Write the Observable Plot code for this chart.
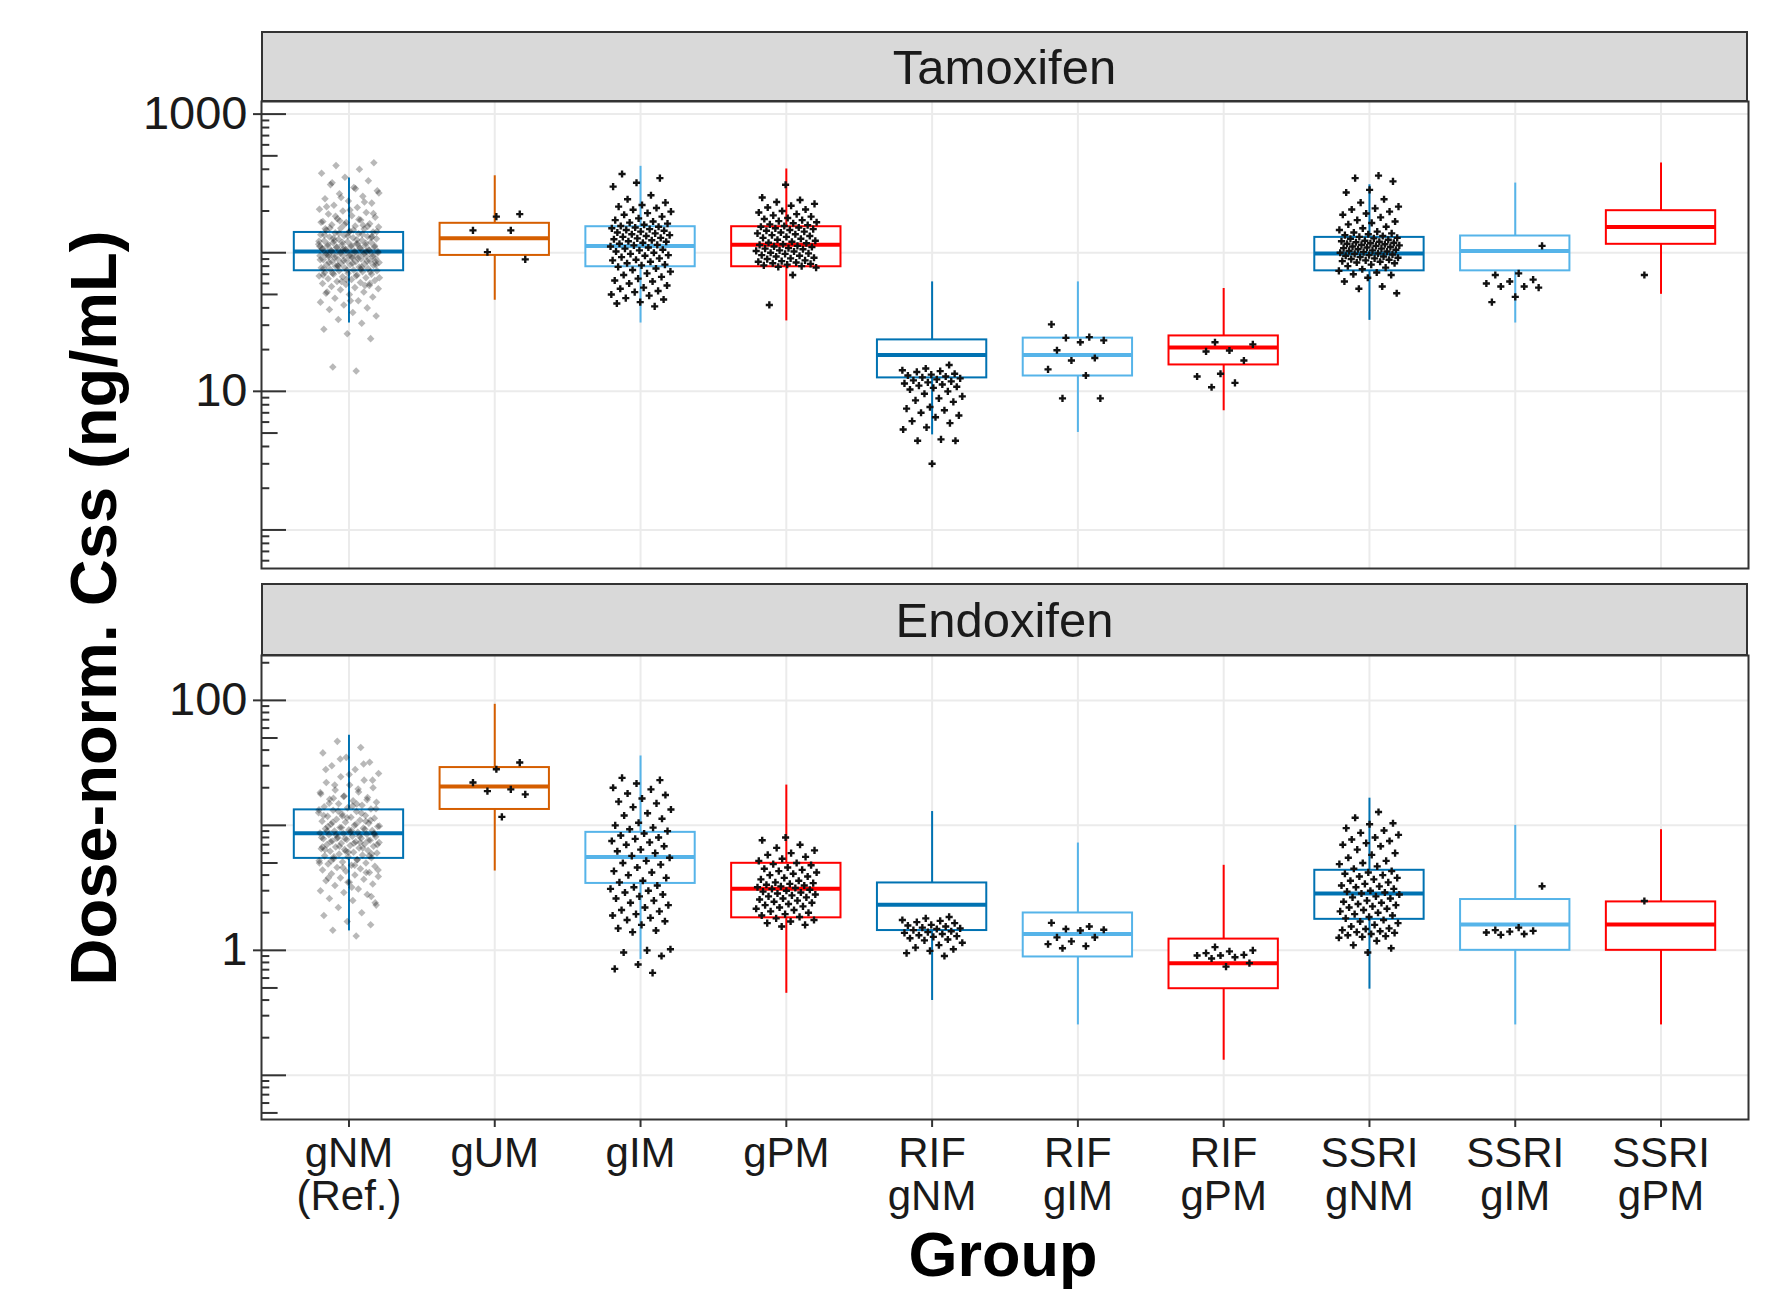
<!DOCTYPE html>
<html><head><meta charset="utf-8">
<script src="https://cdn.jsdelivr.net/npm/d3@7"></script>
<script src="https://cdn.jsdelivr.net/npm/@observablehq/plot@0.6"></script>
<style>
body{margin:0;background:#fff;font-family:"Liberation Sans",Arial,sans-serif;}
#fig{position:relative;width:1766px;height:1289px;overflow:hidden;background:#fff;}
.strip{position:absolute;left:261px;width:1487px;background:#d9d9d9;border:2px solid #333;box-sizing:border-box;display:flex;align-items:center;justify-content:center;font-size:49px;color:#1a1a1a;}
.plot{position:absolute;left:0;}
.title{position:absolute;font-weight:bold;font-size:65px;color:#000;white-space:nowrap;line-height:1;}
</style></head><body><div id="fig"></div>
<script>
// ---------- categories / labels ----------
const categories = ["gNM (Ref.)","gUM","gIM","gPM","RIF gNM","RIF gIM","RIF gPM","SSRI gNM","SSRI gIM","SSRI gPM"];
const labelLine1 = ["gNM","gUM","gIM","gPM","RIF","RIF","RIF","SSRI","SSRI","SSRI"];
const labelLine2 = ["(Ref.)","","","","gNM","gIM","gPM","gNM","gIM","gPM"];
const groupColors = ["#0072B2","#D55E00","#56B4E9","#FF0000","#0072B2","#56B4E9","#FF0000","#0072B2","#56B4E9","#FF0000"];
const panelNames = ["Tamoxifen","Endoxifen"];
const tamTicks = [10, 1000];
const endoTicks = [1, 100];
const xTitle = "Group";
const yTitle = "Dose-norm. Css (ng/mL)";

// ---------- Tamoxifen box statistics ----------
const tamLow    = [31.1, 45.4, 31.1, 32.2, 4.85, 5.05, 7.24, 32.5, 31.1, 50.1];
const tamQ1     = [74.1, 95.6, 79.2, 79.2, 12.5, 12.9, 15.5, 74, 74, 115];
const tamMedian = [102, 127, 112, 114, 18.3, 18.3, 20.7, 98.9, 103, 153];
const tamQ3     = [140, 163, 154, 154, 23.5, 24.2, 25.1, 129, 132, 201];
const tamHigh   = [346, 359, 420, 402, 61.6, 61.6, 55.2, 309, 318, 444];

// ---------- Endoxifen box statistics ----------
const endoLow    = [1.43, 4.31, 0.845, 0.453, 0.397, 0.253, 0.132, 0.489, 0.253, 0.253];
const endoQ1     = [5.44, 13.4, 3.43, 1.82, 1.44, 0.885, 0.493, 1.77, 1.0, 1.0];
const endoMedian = [8.63, 20.5, 5.57, 3.11, 2.32, 1.35, 0.79, 2.85, 1.61, 1.61];
const endoQ3     = [13.3, 29.0, 8.79, 4.97, 3.46, 1.99, 1.23, 4.37, 2.55, 2.44];
const endoHigh   = [52.6, 93, 35.9, 21.0, 12.9, 7.22, 4.79, 16.5, 10, 9.23];

// ---------- Tamoxifen observed points ----------
const tamPtsGNM = [14,15,24,26,28,31,33,35,37,39,40,42,44,45,47,48,50,51,52,54,55,56,57,58,59,60,61,62,63,64,65,66,67,68,69,70,70,71,72,73,74,74,
  75,76,77,78,78,79,80,81,82,82,83,84,85,86,86,87,88,89,90,90,91,92,93,94,95,95,96,97,98,99,100,101,102,102,
  103,104,105,106,107,108,109,110,111,112,113,114,115,116,118,119,120,122,123,125,126,128,130,131,133,135,137,139,141,
  143,145,148,150,153,156,159,162,165,168,172,176,180,185,190,195,200,206,212,220,228,236,245,255,266,280,295,310,330,350,375,400,425,445,
  45,52,58,62,66,68,71,73,75,77,79,80,82,84,85,87,88,89,91,92,94,95,97,98,99,100,101,103,104,105,107,108,110,112,113,115,117,119,121,124,127,129,132,134,136,138,142,146,151,155,160,166,174,183,192,203,215,232,250,270,290,320,
  60,64,69,76,81,86,93,96,102,106,111,116,122,131,140,149,158,170];
const tamPtsGUM = [190,182,145,145,101,89.5];
const tamPtsGIM = [370,345,320,300,260,243,230,221,215,210,204,198,193,188,182,177,172,168,165,162,159,156,154,152,150,148,146,144,142,140,138,136,134,132,130,128,127,125,123,121,120,118,116,114,113,111,109,107,105,104,102,100,98,96,95,93,91,89,88,86,84,82,81,79,77,75,73,71,69,67,65,63,62,60,58,56,55,53,52,50,49,47,46,44,43,41];
const tamPtsGPM = [309,250,240,232,225,218,212,205,200,195,190,186,182,178,175,172,169,166,163,160,158,156,154,152,150,148,146,144,142,140,138,136,134,132,130,128,126,124,122,120,118,117,115,114,112,111,110,108,107,106,104,103,102,100,99,98,96,95,94,92,91,90,88,87,86,85,84,83,82,81,80,79,78,69,42];
const tamPtsRIFgNM = [15.5,14.6,14.2,14.0,13.8,13.4,13.2,13.0,12.8,12.6,12.4,12.2,12.0,11.8,11.6,11.4,11.2,11.0,10.8,10.6,10.3,10.0,9.6,9.2,8.9,8.6,8.4,7.7,7.5,7.3,7.0,6.7,6.5,6.1,5.9,5.5,5.3,4.5,4.4,4.4,3.0];
const tamPtsRIFgIM = [30.4,24.6,24.3,23.3,22.6,19.8,17.4,16.7,14.4,13.0,8.9,8.9];
const tamPtsRIFgPM = [22.6,21.8,19.7,19.4,16.7,13.4,12.8,11.5,10.7];
const tamPtsSSRIgNM = [360,345,327,284,272,243,230,215,209,205,198,192,188,180,172,168,164,160,154,150,146,142,140,138,136,134,132,130,128,127,126,124,122,121,120,119,118,117,116,115,114,113,112,111,110,109,108,107,106,105,104,103,102,101,100,99,98,97,96,95,94,93,92,91,90,89,88,87,86,85,84,82,80,78,76,74,72,70,69,66,62,57,55,51];
const tamPtsSSRIgIM = [112,71,69,64,62,60,57,57,56,48,44];
const tamPtsSSRIgPM = [69];

// ---------- Endoxifen observed points ----------
const endoPtsGNM = [1.3,1.45,1.6,1.7,1.9,2.0,2.2,2.3,2.5,2.6,2.8,2.9,3.0,3.1,3.3,3.4,3.5,3.6,3.7,3.8,3.9,4.0,4.1,4.2,4.3,4.4,4.5,4.6,4.7,4.8,4.9,5.0,5.1,5.2,5.3,5.4,5.5,5.6,5.7,5.8,5.9,6.0,6.1,6.2,6.3,6.4,6.5,6.6,6.7,6.8,6.9,7.0,7.1,7.2,7.3,7.4,7.5,7.6,7.7,7.8,7.9,8.0,8.1,8.2,8.4,8.5,8.6,8.7,8.8,9.0,9.1,9.2,9.4,9.5,9.6,9.8,10.0,10.2,10.4,10.6,10.8,11.0,11.2,11.4,11.6,11.8,12.0,12.3,12.6,12.9,13.2,13.5,13.8,14.1,14.5,14.9,15.3,15.7,16.2,16.7,17.2,17.8,18.5,19.2,20,21,22,23,24.5,26,28,30,32,35,38,42,47,
  2.4,3.2,3.8,4.2,4.6,5.0,5.3,5.6,5.9,6.1,6.4,6.6,6.8,7.0,7.2,7.4,7.6,7.8,8.0,8.2,8.4,8.6,8.8,9.0,9.3,9.6,9.9,10.2,10.6,11.0,11.5,12.0,12.5,13.0,13.6,14.3,15.0,16.0,17.0,18.3,19.5,21,23,25.5,28,31,34,
  4.4,4.8,5.2,5.7,6.2,6.7,7.3,7.9,8.5,9.1,9.8,10.8,11.9,13.3,14.8,16.5,2.7,3.5];
const endoPtsGUM = [31.8,28.1,22.0,19.4,18.8,17.7,11.7];
const endoPtsGIM = [24,23,21.6,20,19.4,18,17.5,16.4,15.5,15,14,13.4,12.5,12,11.3,10.5,10,9.6,9.3,9.0,8.6,8.3,8.0,7.8,7.5,7.3,7.0,6.8,6.4,6.2,6.0,5.7,5.5,5.2,5.0,4.85,4.6,4.3,4.2,4.0,3.8,3.6,3.5,3.3,3.2,3.1,3.0,2.9,2.8,2.7,2.6,2.5,2.4,2.3,2.2,2.1,2.05,1.95,1.9,1.82,1.75,1.71,1.6,1.5,1.44,1.4,1.02,1.0,0.96,0.9,0.77,0.71,0.66];
const endoPtsGPM = [8.0,7.6,7.0,6.6,6.3,6.0,5.8,5.6,5.4,5.2,5.0,4.9,4.8,4.6,4.5,4.4,4.3,4.2,4.1,4.0,3.9,3.8,3.7,3.6,3.5,3.45,3.4,3.35,3.3,3.25,3.2,3.15,3.1,3.05,3.0,2.95,2.9,2.85,2.8,2.75,2.7,2.65,2.6,2.55,2.5,2.45,2.4,2.35,2.3,2.25,2.2,2.15,2.1,2.05,2.0,1.95,1.9,1.85,1.8,1.75,1.7,1.65,1.6,1.55];
const endoPtsRIFgNM = [1.85,1.8,1.75,1.72,1.68,1.65,1.6,1.58,1.55,1.52,1.5,1.48,1.45,1.42,1.4,1.38,1.35,1.32,1.3,1.28,1.25,1.22,1.2,1.15,1.1,1.05,1.02,0.99,0.95,0.9];
const endoPtsRIFgIM = [1.66,1.55,1.48,1.46,1.44,1.27,1.27,1.18,1.12,1.08,1.04];
const endoPtsRIFgPM = [1.06,1.0,0.98,0.95,0.92,0.91,0.91,0.88,0.86,0.79,0.74];
const endoPtsSSRIgNM = [12.8,11.5,10.4,10.2,9.5,9.1,8.7,8.4,8.0,7.7,7.5,7.2,7.0,6.8,6.4,6.0,5.8,5.5,5.2,5.0,4.9,4.7,4.5,4.3,4.2,4.1,4.0,3.9,3.8,3.7,3.6,3.5,3.4,3.3,3.25,3.2,3.1,3.0,2.95,2.9,2.85,2.8,2.7,2.65,2.6,2.5,2.45,2.4,2.35,2.3,2.25,2.2,2.15,2.1,2.05,2.0,1.95,1.9,1.85,1.8,1.75,1.7,1.65,1.6,1.55,1.5,1.48,1.45,1.42,1.4,1.38,1.35,1.32,1.3,1.28,1.26,1.19,1.1,1.04,0.96];
const endoPtsSSRIgIM = [3.26,1.52,1.45,1.43,1.41,1.39,1.35,1.33];
const endoPtsSSRIgPM = [2.48];

// ---------- layout constants ----------
const W = 1766, ML = 261, MR = 18;
const xDomain = [-0.6, 9.6];
const unitsPerPx = (xDomain[1] - xDomain[0]) / (W - ML - MR);
const idx = categories.map((_, i) => i);
const halfBox = 0.375;

function jitter(i, g) {
  return ((((i + 1) * 0.6180339887 + g * 0.29) % 1) - 0.5) * 0.42;
}
function pointRows(list) {
  const rows = [];
  list.forEach((arr, g) => arr.forEach((v, i) => rows.push({g, v, x: g + jitter(i, g)})));
  return rows;
}
function logTicks(domain) {
  const long = [], mid = [], short = [];
  for (let e = -3; e <= 4; e++) {
    const base = Math.pow(10, e);
    for (let m = 1; m <= 9; m++) {
      const v = +(m * base).toPrecision(3);
      if (v < domain[0] || v > domain[1]) continue;
      (m === 1 ? long : m === 5 ? mid : short).push(v);
    }
  }
  return {long, mid, short};
}

function panel({top, domain, ticks, stats, pts, showX}) {
  const [lo, q1, med, q3, hi] = stats;
  const frameH = stats.frameH;
  const lt = logTicks(domain);
  const rows = pointRows(pts);
  const gray = rows.filter(d => d.g === 0);
  const black = rows.filter(d => d.g !== 0);
  const tick = (arr, len) => Plot.ruleY(arr, {x1: xDomain[0], x2: xDomain[0] + len * unitsPerPx, stroke: "#333", strokeWidth: 2});
  const marks = [
    Plot.ruleY(lt.long, {stroke: "#ebebeb", strokeWidth: 2}),
    Plot.ruleX(idx, {stroke: "#ebebeb", strokeWidth: 2}),
    Plot.rect(idx, {x1: i => i - halfBox, x2: i => i + halfBox, y1: i => q1[i], y2: i => q3[i], fill: "white", stroke: i => groupColors[i], strokeWidth: 2}),
    Plot.ruleX(idx, {x: i => i, y1: i => q3[i], y2: i => hi[i], stroke: i => groupColors[i], strokeWidth: 2}),
    Plot.ruleX(idx, {x: i => i, y1: i => lo[i], y2: i => q1[i], stroke: i => groupColors[i], strokeWidth: 2}),
    Plot.ruleY(idx, {y: i => med[i], x1: i => i - halfBox, x2: i => i + halfBox, stroke: i => groupColors[i], strokeWidth: 4}),
    Plot.dot(gray, {x: "x", y: "v", symbol: "diamond2", r: 3.4, fill: "#000", fillOpacity: 0.28}),
    Plot.dot(black, {x: "x", y: "v", symbol: "cross", r: 3.0, fill: "#111"}),
    tick(lt.long, 25), tick(lt.mid, 16.6), tick(lt.short, 8.3),
    Plot.frame({stroke: "#333", strokeWidth: 2}),
    Plot.axisY({ticks, tickSize: 8, tickPadding: 6, fontSize: 47, tickFormat: d => String(d), label: null, strokeWidth: 2, stroke: "#333", fill: "#1a1a1a"})
  ];
  let mb = 5;
  if (showX) {
    mb = 130;
    marks.push(
      Plot.axisX({ticks: idx, tickSize: 8, tickFormat: () => "", label: null, strokeWidth: 2, stroke: "#333"}),
      Plot.text(idx, {x: i => i, frameAnchor: "bottom", text: i => labelLine1[i], dy: 47, fontSize: 42, fill: "#1a1a1a"}),
      Plot.text(idx, {x: i => i, frameAnchor: "bottom", text: i => labelLine2[i], dy: 90, fontSize: 42, fill: "#1a1a1a"})
    );
  }
  const svg = Plot.plot({
    width: W, height: 5 + frameH + mb,
    marginLeft: ML, marginRight: MR, marginTop: 5, marginBottom: mb,
    x: {domain: xDomain, axis: showX ? undefined : null},
    y: {type: "log", domain},
    color: {type: "identity"},
    style: {fontFamily: "'Liberation Sans', Arial, sans-serif", background: "transparent", color: "#1a1a1a", overflow: "visible"},
    marks
  });
  svg.classList.add("plot");
  svg.style.top = (top - 5) + "px";
  return svg;
}

const fig = document.getElementById("fig");

function strip(text, top, h) {
  const d = document.createElement("div");
  d.className = "strip";
  d.style.top = top + "px";
  d.style.height = h + "px";
  d.textContent = text;
  fig.appendChild(d);
}

const tamStats = [tamLow, tamQ1, tamMedian, tamQ3, tamHigh]; tamStats.frameH = 467;
const endoStats = [endoLow, endoQ1, endoMedian, endoQ3, endoHigh]; endoStats.frameH = 464;

fig.appendChild(panel({top: 101, domain: [0.527, 1233], ticks: tamTicks, stats: tamStats,
  pts: [tamPtsGNM, tamPtsGUM, tamPtsGIM, tamPtsGPM, tamPtsRIFgNM, tamPtsRIFgIM, tamPtsRIFgPM, tamPtsSSRIgNM, tamPtsSSRIgIM, tamPtsSSRIgPM], showX: false}));
fig.appendChild(panel({top: 655, domain: [0.0443, 228.6], ticks: endoTicks, stats: endoStats,
  pts: [endoPtsGNM, endoPtsGUM, endoPtsGIM, endoPtsGPM, endoPtsRIFgNM, endoPtsRIFgIM, endoPtsRIFgPM, endoPtsSSRIgNM, endoPtsSSRIgIM, endoPtsSSRIgPM], showX: true}));

strip(panelNames[0], 31, 71);
strip(panelNames[1], 583, 73);

const yt = document.createElement("div");
yt.className = "title";
yt.textContent = yTitle;
yt.style.left = "93px"; yt.style.top = "608px";
yt.style.transform = "translate(-50%,-50%) rotate(-90deg)";
fig.appendChild(yt);

const xt = document.createElement("div");
xt.className = "title";
xt.textContent = xTitle;
xt.style.fontSize = "63px";
xt.style.left = "1003px"; xt.style.top = "1223px";
xt.style.transform = "translateX(-50%)";
fig.appendChild(xt);
</script></body></html>
